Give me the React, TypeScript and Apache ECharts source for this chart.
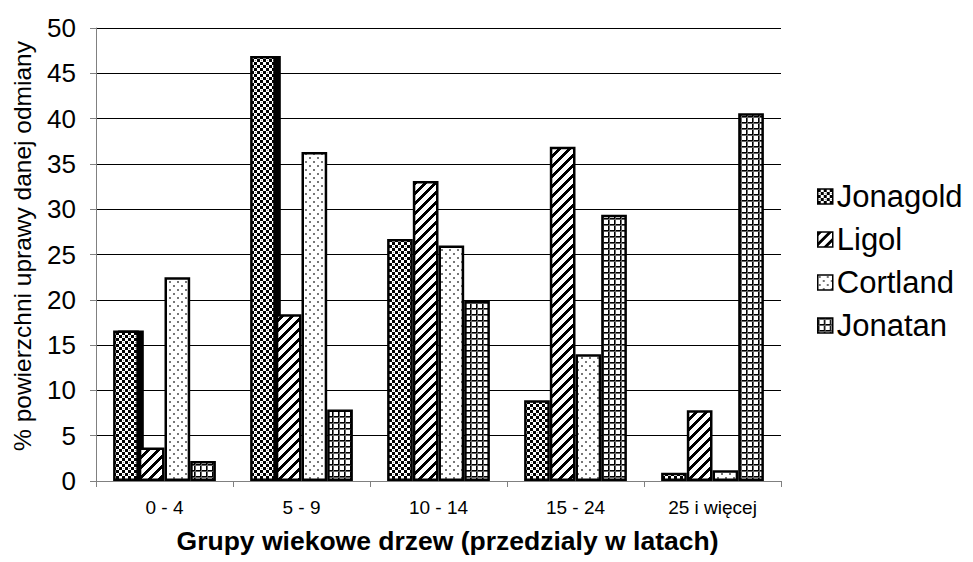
import React, { useEffect, useRef } from "react";
import * as echarts from "echarts";

const categories = ["0 - 4", "5 - 9", "10 - 14", "15 - 24", "25 i więcej"];
const seriesNames = ["Jonagold", "Ligol", "Cortland", "Jonatan"];
const jonagold = [16.6, 46.9, 26.7, 8.9, 0.9];
const ligol = [3.7, 18.4, 33.1, 36.9, 7.8];
const cortland = [22.5, 36.3, 26.0, 14.0, 1.2];
const jonatan = [2.2, 7.9, 19.9, 29.4, 40.6];
const yTicks = [0, 5, 10, 15, 20, 25, 30, 35, 40, 45, 50];

function makeTile(size: number, draw: (ctx: CanvasRenderingContext2D) => void) {
  const c = document.createElement("canvas");
  c.width = size;
  c.height = size;
  const ctx = c.getContext("2d")!;
  ctx.fillStyle = "#fff";
  ctx.fillRect(0, 0, size, size);
  draw(ctx);
  return { image: c.toDataURL(), repeat: "repeat", imageWidth: size, imageHeight: size };
}

function patterns() {
  const checker = makeTile(6, (ctx) => {
    ctx.fillStyle = "#000";
    ctx.fillRect(0, 0, 3, 3);
    ctx.fillRect(3, 3, 3, 3);
    ctx.fillStyle = "#fff";
    ctx.fillRect(4, 1, 1, 1);
    ctx.fillStyle = "#999";
    ctx.fillRect(1, 4, 1, 1);
  });
  const stripes = makeTile(10, (ctx) => {
    ctx.fillStyle = "#000";
    for (let y = 0; y < 10; y++) {
      for (let x = 0; x < 10; x++) {
        const d = (x + y) % 10;
        if (d < 4) ctx.fillRect(x, y, 1, 1);
      }
    }
  });
  const dots = makeTile(8, (ctx) => {
    ctx.fillStyle = "#777";
    ctx.fillRect(1, 1, 2, 2);
    ctx.fillRect(5, 5, 2, 2);
  });
  const grid = makeTile(6, (ctx) => {
    ctx.fillStyle = "#000";
    ctx.fillRect(0, 0, 6, 1);
    ctx.fillRect(0, 0, 1, 6);
    ctx.fillStyle = "#666";
    ctx.fillRect(0, 1, 6, 1);
    ctx.fillRect(1, 0, 1, 6);
  });
  return [checker, stripes, dots, grid];
}

export default function App() {
  const ref = useRef<HTMLDivElement>(null);
  useEffect(() => {
    if (!ref.current) return;
    const chart = echarts.init(ref.current, null, { renderer: "svg" });
    const pats = patterns();
    const values = [jonagold, ligol, cortland, jonatan];
    const font = "'Liberation Sans', Arial, sans-serif";
    chart.setOption({
      animation: false,
      backgroundColor: "#fff",
      textStyle: { fontFamily: font },
      grid: {
        left: 88,
        top: 20,
        width: 685,
        height: 453,
        containLabel: false,
        outerBoundsMode: "none",
      },
      legend: {
        orient: "vertical",
        left: 804,
        top: 168,
        itemWidth: 15,
        itemHeight: 15,
        itemGap: 12,
        icon: "rect",
        data: seriesNames,
        textStyle: { fontSize: 31, color: "#000", fontFamily: font, padding: [0, 0, 0, -1] },
        itemStyle: { borderColor: "#000", borderWidth: 1.5 },
      },
      xAxis: {
        type: "category",
        data: categories,
        axisLine: { show: true, lineStyle: { color: "#808080", width: 1 } },
        axisTick: { show: true, length: 6, lineStyle: { color: "#808080" } },
        axisLabel: { fontSize: 19, color: "#000", margin: 17, fontFamily: font },
        name: "Grupy wiekowe drzew (przedzialy w latach)",
        nameLocation: "middle",
        nameGap: 46,
        nameTextStyle: {
          fontSize: 26.5,
          fontWeight: "bold",
          color: "#000",
          fontFamily: font,
          padding: [0, 0, 0, 18],
        },
      },
      yAxis: {
        type: "value",
        min: yTicks[0],
        max: yTicks[yTicks.length - 1],
        interval: 5,
        axisLine: { show: true, lineStyle: { color: "#808080", width: 1 } },
        axisTick: { show: true, length: 6, lineStyle: { color: "#808080" } },
        axisLabel: { fontSize: 26, color: "#000", margin: 20, fontFamily: font },
        splitLine: { show: true, lineStyle: { color: "#000", width: 1 } },
        name: "% powierzchni uprawy danej odmiany",
        nameLocation: "middle",
        nameGap: 61,
        nameTextStyle: { fontSize: 24.5, color: "#000", fontFamily: font, padding: [0, 0, 0, 17] },
      },
      series: seriesNames.map((name, i) => ({
        name,
        type: "bar",
        barGap: "0%",
        barCategoryGap: "25%",
        itemStyle: { color: pats[i], borderColor: "#000", borderWidth: 2.5 },
        emphasis: { disabled: true },
        data: values[i].map((v, j) =>
          i === 0 && j < 2
            ? {
                value: v,
                itemStyle: {
                  shadowColor: "#000",
                  shadowOffsetX: 5,
                  shadowOffsetY: 0,
                  shadowBlur: 0,
                },
              }
            : v
        ),
      })),
    });
    return () => chart.dispose();
  }, []);
  return <div ref={ref} style={{ width: 965, height: 554 }} />;
}
